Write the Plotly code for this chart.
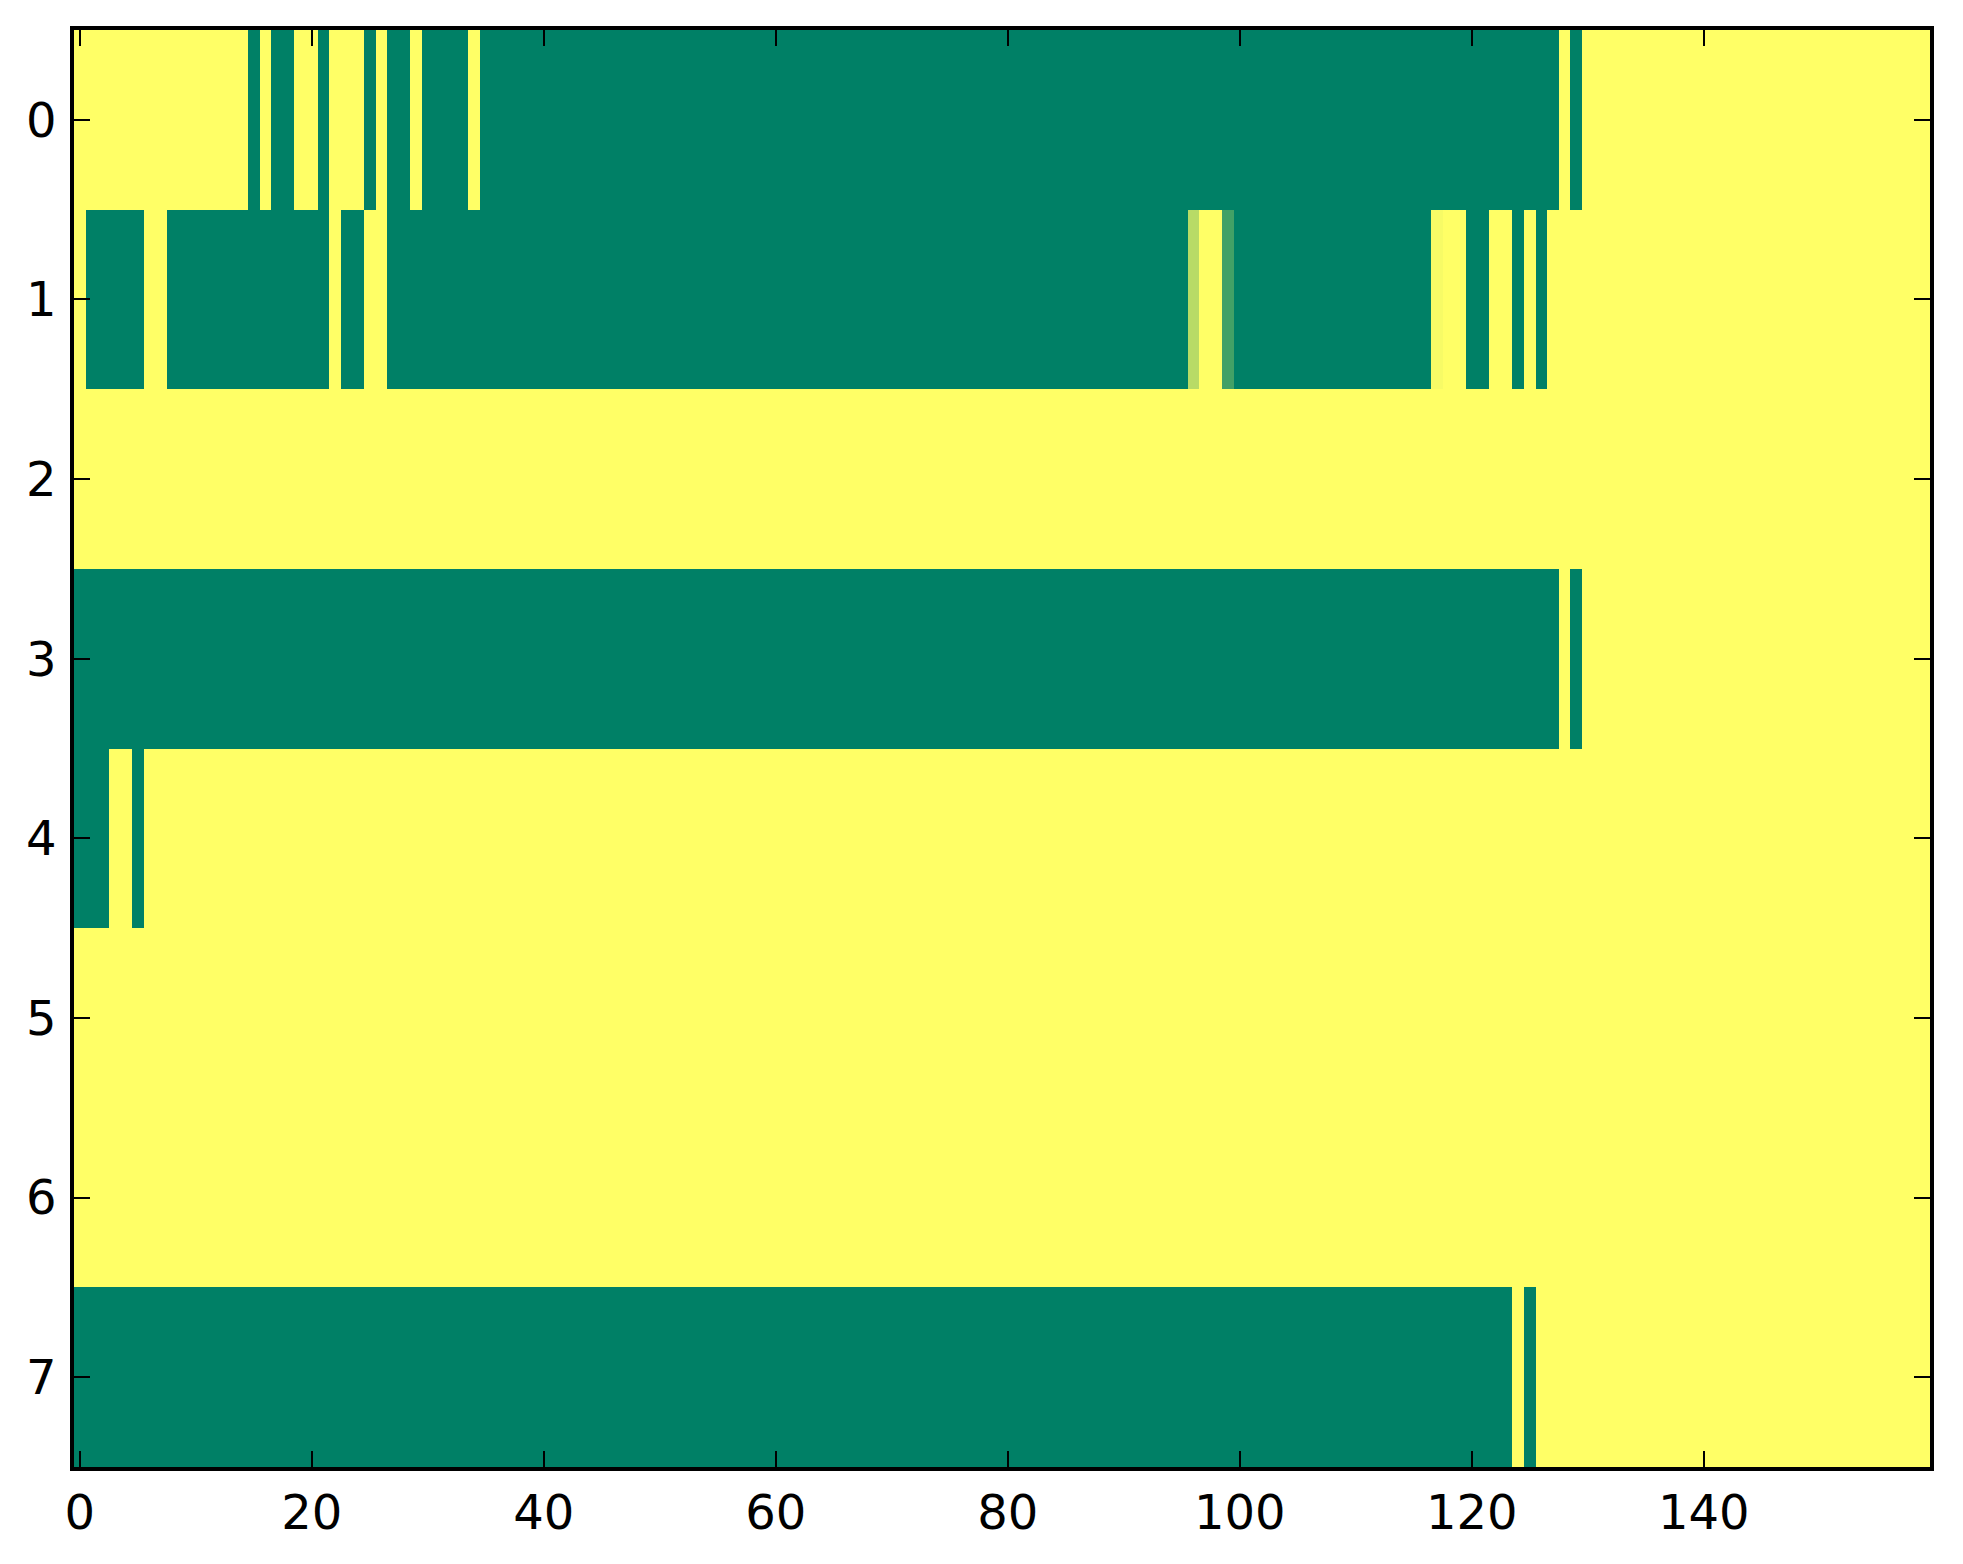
import plotly.graph_objects as go

# Run-length encoded rows: (value, count); 160 columns per row
row0_runs = [(1, 15), (0, 1), (1, 1), (0, 2), (1, 2), (0, 1), (1, 3), (0, 1), (1, 1),
             (0, 2), (1, 1), (0, 4), (1, 1), (0, 93), (1, 1), (0, 1), (1, 30)]
row1_runs = [(1, 1), (0, 5), (1, 2), (0, 14), (1, 1), (0, 2), (1, 2), (0, 69), (0.72, 1),
             (1, 2), (0.26, 1), (0, 17), (0.97, 1), (1, 2), (0, 2), (1, 2), (0, 1), (1, 1),
             (0, 1), (1, 33)]
row2_runs = [(1, 160)]
row3_runs = [(0, 128), (1, 1), (0, 1), (1, 30)]
row4_runs = [(0, 3), (1, 2), (0, 1), (1, 154)]
row5_runs = [(1, 160)]
row6_runs = [(1, 160)]
row7_runs = [(0, 124), (1, 1), (0, 1), (1, 34)]

row_labels = [0, 1, 2, 3, 4, 5, 6, 7]
x_ticks = [0, 20, 40, 60, 80, 100, 120, 140]


def expand(runs):
    out = []
    for v, n in runs:
        out.extend([v] * n)
    return out


rows = [row0_runs, row1_runs, row2_runs, row3_runs, row4_runs, row5_runs, row6_runs, row7_runs]
z = [expand(r) for r in rows]
ncols = len(z[0])

fig = go.Figure(go.Heatmap(
    z=z,
    x=list(range(ncols)),
    y=row_labels,
    colorscale=[[0, "rgb(0,128,102)"], [1, "rgb(255,255,102)"]],
    zmin=0, zmax=1,
    showscale=False,
    hoverinfo="skip",
))

axis_common = dict(
    showline=True, linecolor="black", linewidth=3.6, mirror="allticks",
    ticks="inside", ticklen=16, tickwidth=2, tickcolor="black",
    showgrid=False, zeroline=False,
    tickfont=dict(family="DejaVu Sans", size=48, color="black"),
)

fig.update_layout(
    width=1955, height=1556,
    margin=dict(l=66, r=33, t=22, b=97),
    paper_bgcolor="white", plot_bgcolor="white",
    xaxis=dict(range=[-0.5, ncols - 0.5], tickvals=x_ticks, ticklabelstandoff=1, **axis_common),
    yaxis=dict(range=[7.5, -0.5], tickvals=row_labels, ticklabelstandoff=4, **axis_common),
)

fig.write_html("out.html")
